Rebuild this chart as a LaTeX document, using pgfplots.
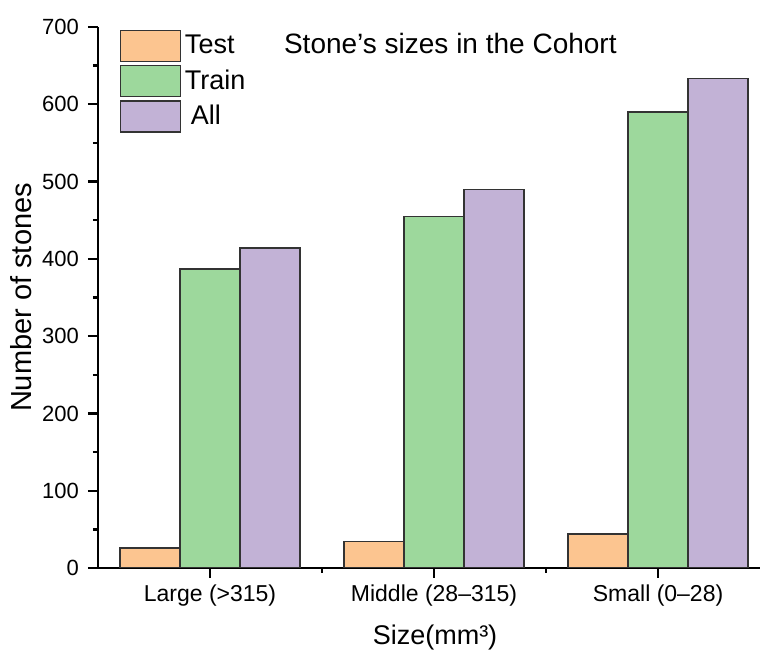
\documentclass[border=0pt]{standalone}
\usepackage{fontspec}
\setmainfont{Liberation Sans}
\usepackage{pgfplots}
\pgfplotsset{compat=1.18}
\definecolor{cTest}{HTML}{FCC590}
\definecolor{cTrain}{HTML}{9DD89C}
\definecolor{cAll}{HTML}{C2B2D6}
\definecolor{edge}{HTML}{333333}
\begin{document}
\begin{tikzpicture}
\begin{axis}[
  scale only axis,
  width=331pt, height=270.5pt,
  ybar=0pt, bar width=30pt,
  xmin=-0.5, xmax=2.455,
  ymin=0, ymax=700,
  axis lines=left,
  axis line style={-, line width=1.2pt, black},
  xtick={0,1,2},
  xticklabels={Large (>315), Middle (28–315), Small (0–28)},
  minor xtick={0.5,1.5},
  ytick={0,100,...,700},
  minor ytick={50,150,...,650},
  tick align=outside,
  major tick length=5pt,
  minor tick length=2.5pt,
  tick style={line width=1.2pt, black},
  /pgf/number format/assume math mode=true,
  yticklabel style={font=\fontsize{11}{13}\selectfont, xshift=-1pt},
  xticklabel style={font=\fontsize{11.5}{13}\selectfont},
  xlabel={Size(mm³)},
  ylabel={Number of stones},
  xlabel style={font=\fontsize{13.5}{16}\selectfont, xshift=3pt, yshift=-2.5pt},
  ylabel style={font=\fontsize{14.5}{16}\selectfont, yshift=-1.5pt},
  legend style={draw=none, fill=none, at={(rel axis cs:0.032,0.996)}, anchor=north west,
    font=\fontsize{13.5}{15}\selectfont, row sep=1.5pt, inner sep=0pt,
    /tikz/every even column/.append style={column sep=4.5pt}},
  legend cell align=left,
  legend image code/.code={\draw[#1] (0pt,-7.75pt) rectangle (30pt,7.75pt);},
  every axis plot/.append style={draw=edge, line width=0.7pt},
]
\addplot[fill=cTest] coordinates {(0,26) (1,34) (2,44)};
\addplot[fill=cTrain] coordinates {(0,387) (1,455) (2,590)};
\addplot[fill=cAll] coordinates {(0,414) (1,490) (2,633)};
\legend{Test, Train, \hspace{3pt}All}
\node[anchor=base west, font=\fontsize{14}{16}\selectfont] at (axis cs:0.299,666) {Stone's sizes in the Cohort};
\end{axis}
\pgfresetboundingbox
\path[use as bounding box] (-49pt,-41.5pt) rectangle (331pt,284pt);
\end{tikzpicture}
\end{document}
